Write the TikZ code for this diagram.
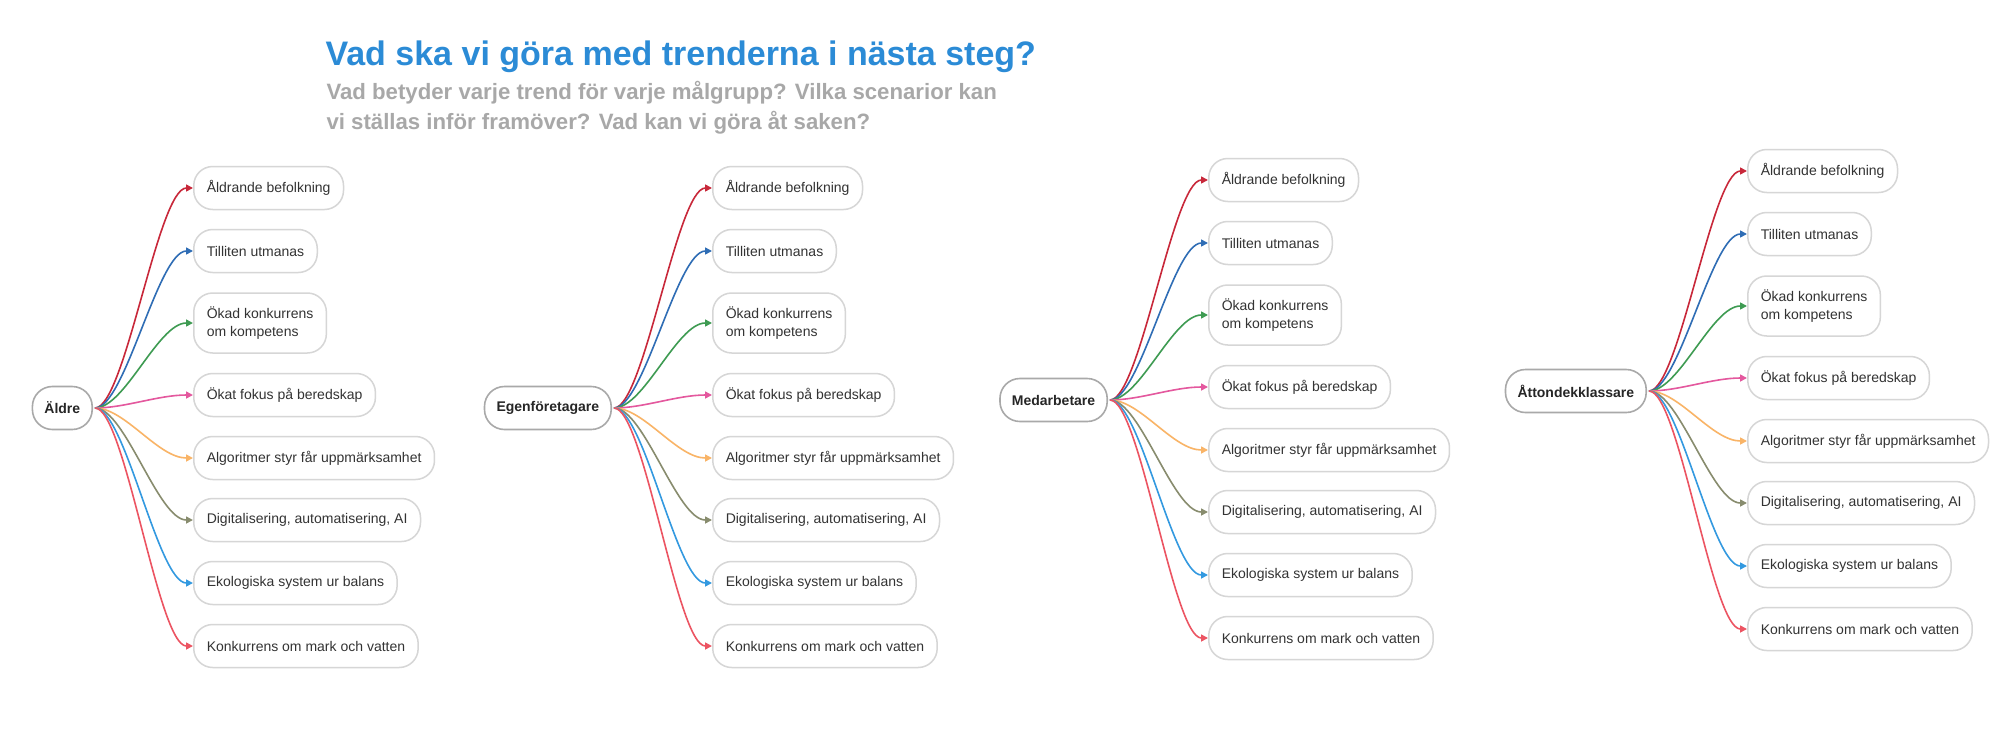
\documentclass[tikz,border=0pt]{standalone}
\usepackage{fontspec}
\setmainfont{Liberation Sans}
\usetikzlibrary{arrows.meta}
\definecolor{cA}{HTML}{C8283A}
\definecolor{cB}{HTML}{2F6DB5}
\definecolor{cC}{HTML}{3E9B52}
\definecolor{cD}{HTML}{E4589E}
\definecolor{cE}{HTML}{F9B467}
\definecolor{cF}{HTML}{888C6E}
\definecolor{cG}{HTML}{3399E0}
\definecolor{cH}{HTML}{EC5462}
\definecolor{titleblue}{HTML}{2B8BD6}
\definecolor{subgray}{HTML}{A8A8A8}
\definecolor{leafgray}{HTML}{D6D6D6}
\definecolor{rootgray}{HTML}{A9A9A9}
\definecolor{textdark}{HTML}{333333}
\tikzset{
  leafbox/.style={draw=leafgray, line width=1.5pt, rounded corners=19pt, fill=white,
    minimum height=43pt, inner xsep=13pt, inner ysep=0pt, anchor=west, align=left,
    text=textdark, font=\fontsize{14}{18}\selectfont},
  sgl/.style={},
  dbl/.style={minimum height=60pt},
  rootbox/.style={draw=rootgray, line width=1.6pt, rounded corners=20pt, fill=white,
    minimum height=43pt, inner xsep=12pt, inner ysep=0pt, anchor=east,
    text=black!85, font=\fontsize{14}{18}\selectfont\bfseries},
  conn/.style={line width=1.6pt, -{Triangle[length=7pt,width=7pt]}},
  titletext/.style={anchor=base west, text=titleblue, font=\fontsize{34}{40}\selectfont\bfseries},
  subtext/.style={anchor=base west, text=subgray, font=\fontsize{22.2}{30}\selectfont\bfseries}
}
\newcommand\mycluster[4]{%
  \node[rootbox] (#1r) at (#3,#4) {#2};
  \foreach \i/\dy/\col/\hs/\txt in {
      1/-220/cA/sgl/{Åldrande befolkning},
      2/-157/cB/sgl/{Tilliten utmanas},
      3/-85/cC/dbl/{Ökad konkurrens\\om kompetens},
      4/-13/cD/sgl/{Ökat fokus på beredskap},
      5/50/cE/sgl/{Algoritmer styr får uppmärksamhet},
      6/112/cF/sgl/{Digitalisering, automatisering, AI},
      7/175/cG/sgl/{Ekologiska system ur balans},
      8/238/cH/sgl/{Konkurrens om mark och vatten}}{
    \node[leafbox,\hs] (#1\i) at ({#3+100},{#4+\dy}) {\txt};
    \draw[conn,\col] ([xshift=2pt]#1r.east) .. controls +(30,0) and +(-35,0) .. (#1\i.west);
  }%
}
\begin{document}
\begin{tikzpicture}[x=1pt,y=-1pt]
\fill[white] (0,0) rectangle (2000,739);
\useasboundingbox (0,0) rectangle (2000,739);
\node[titletext] (title) at (322,65) {Vad ska vi göra med trenderna i nästa steg?};
\node[subtext] (sub1) at (323,99) {Vad betyder varje trend för varje målgrupp? Vilka scenarior kan};
\node[subtext] (sub2) at (323,129) {vi ställas inför framöver? Vad kan vi göra åt saken?};
\mycluster{a}{Äldre}{93}{408}
\mycluster{b}{Egenföretagare}{612}{408}
\mycluster{c}{Medarbetare}{1108}{400}
\mycluster{d}{Åttondekklassare}{1647}{391}
\end{tikzpicture}
\end{document}
